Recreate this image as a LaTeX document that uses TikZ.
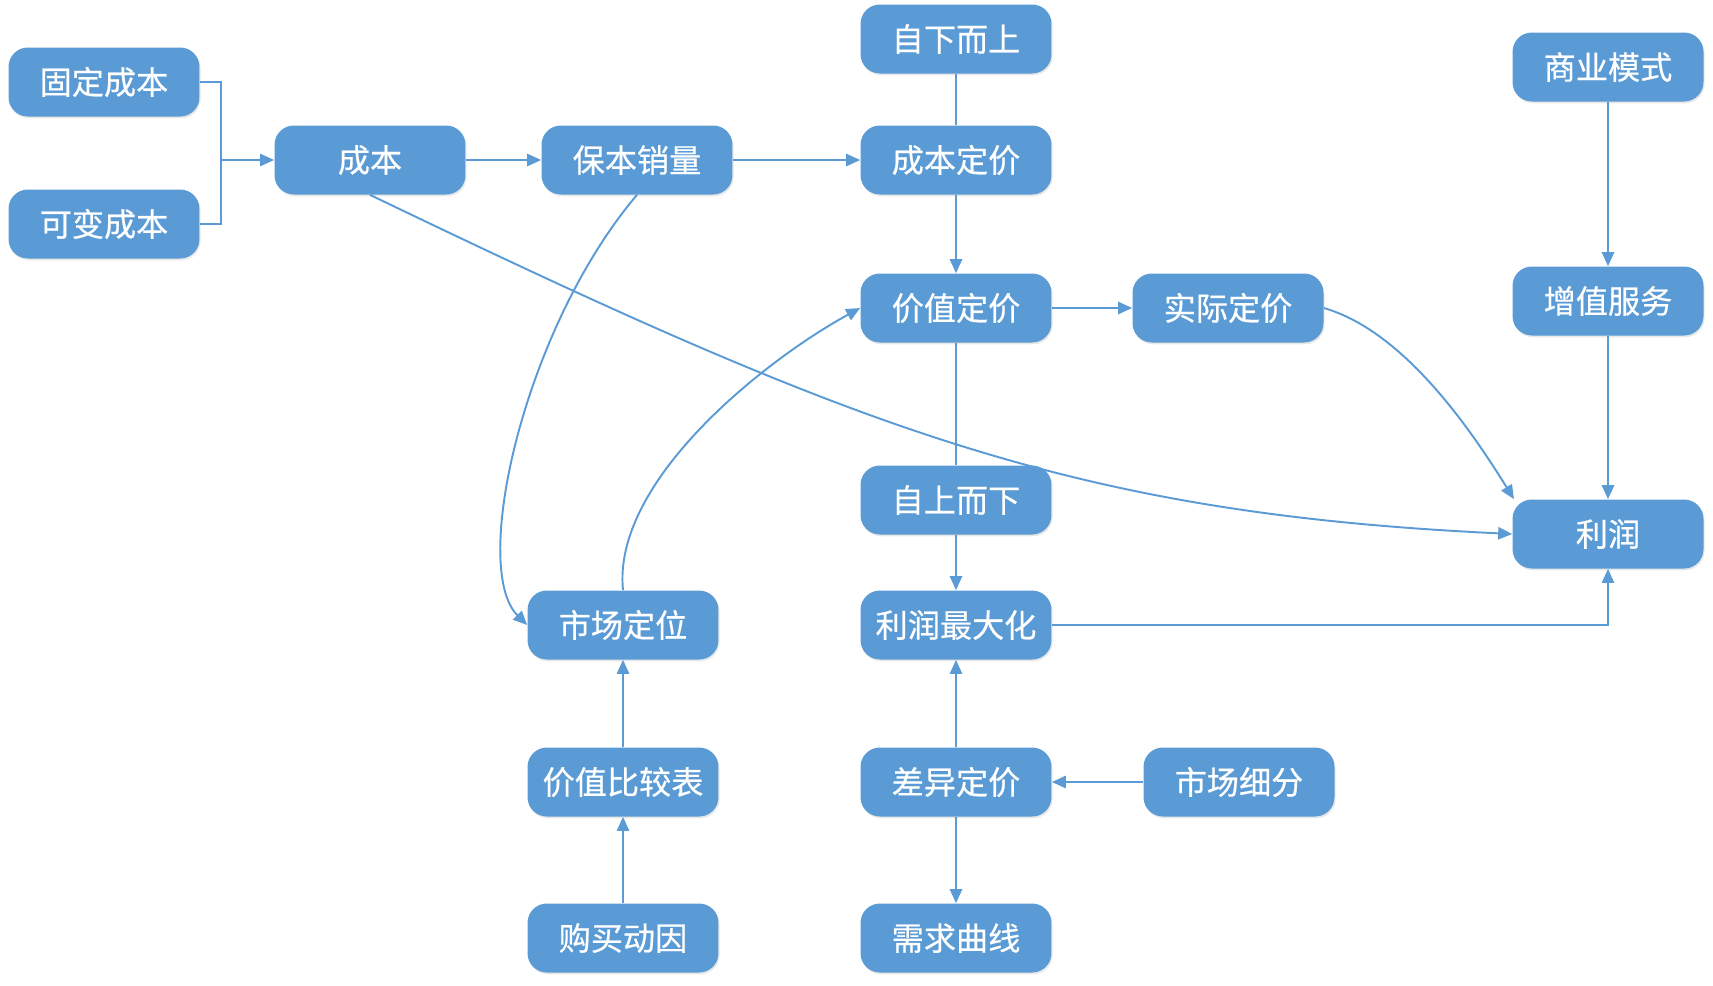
\documentclass[tikz,border=0pt]{standalone}
\usepackage{fontspec}
\newfontfamily\cjk[FakeBold=0.5]{Noto Sans CJK SC}
\usetikzlibrary{arrows.meta,shadows,backgrounds}
\definecolor{boxblue}{RGB}{91,155,213}

\begin{document}
\begin{tikzpicture}[x=0.02cm,y=-0.02cm,
  blk/.style={rectangle,rounded corners=11pt,fill=boxblue,text=white,
    minimum width=3.82cm,minimum height=1.38cm,
    font=\cjk\fontsize{18.3}{21}\selectfont,
    drop shadow={opacity=0.18,shadow xshift=0.6pt,shadow yshift=-1pt}},
  lnk/.style={boxblue,line width=1.1pt},
  arr/.style={lnk,-{Triangle[length=8pt,width=7pt]}}]
  \useasboundingbox (0,0) rectangle (1713,985);
  % cost side
  \node[blk] (gdcb) at (104,82) {固定成本};
  \node[blk] (kbcb) at (104,224) {可变成本};
  \node[blk] (cb) at (370,160) {成本};
  \node[blk] (bbxl) at (637,160) {保本销量};
  % middle column
  \node[blk] (zxes) at (956,39) {自下而上};
  \node[blk] (cbdj) at (956,160) {成本定价};
  \node[blk] (jzdj) at (956,308) {价值定价};
  \node[blk] (sjdj) at (1228,308) {实际定价};
  \node[blk] (zsex) at (956,500) {自上而下};
  \node[blk] (lrzd) at (956,625) {利润最大化};
  \node[blk] (cydj) at (956,782) {差异定价};
  \node[blk] (xqqx) at (956,938) {需求曲线};
  \node[blk] (scxf) at (1239,782) {市场细分};
  % market column
  \node[blk] (scdw) at (623,625) {市场定位};
  \node[blk] (jzbj) at (623,782) {价值比较表};
  \node[blk] (gmdy) at (623,938) {购买动因};
  % profit column
  \node[blk] (sykm) at (1608,67) {商业模式};
  \node[blk] (zzfw) at (1608,301) {增值服务};
  \node[blk] (lr) at (1608,534) {利润};
  \coordinate (jn) at (221,160);
  \begin{scope}[on background layer]
    \draw[lnk] (gdcb.east) -| (jn);
    \draw[lnk] (kbcb.east) -| (jn);
    \draw[arr] (jn) -- (cb);
    \draw[arr] (cb) -- (bbxl);
    \draw[arr] (bbxl) -- (cbdj);
    \draw[lnk] (zxes) -- (cbdj);
    \draw[arr] (cbdj) -- (jzdj);
    \draw[arr] (jzdj) -- (sjdj);
    \draw[lnk] (jzdj) -- (zsex);
    \draw[arr] (zsex) -- (lrzd);
    \draw[arr] (lrzd.east) -| (lr.south);
    \draw[arr] (cydj) -- (lrzd);
    \draw[arr] (cydj) -- (xqqx);
    \draw[arr] (scxf) -- (cydj);
    \draw[arr] (jzbj) -- (scdw);
    \draw[arr] (gmdy) -- (jzbj);
    \draw[arr] (sykm) -- (zzfw);
    \draw[arr] (zzfw) -- (lr);
    % curved links
    \draw[arr] (sjdj.east) .. controls (1400,330) and (1465,420) .. ([xshift=1pt]lr.north west);
    \draw[arr] (cb.south) .. controls (863,432) and (1073,513) .. (lr.west);
    \draw[arr] (bbxl.south) .. controls (524,328) and (470,568) .. (scdw.west);
    \draw[arr] (scdw.north) .. controls (612,481) and (765,360) .. (jzdj.west);
  \end{scope}
\end{tikzpicture}
\end{document}
